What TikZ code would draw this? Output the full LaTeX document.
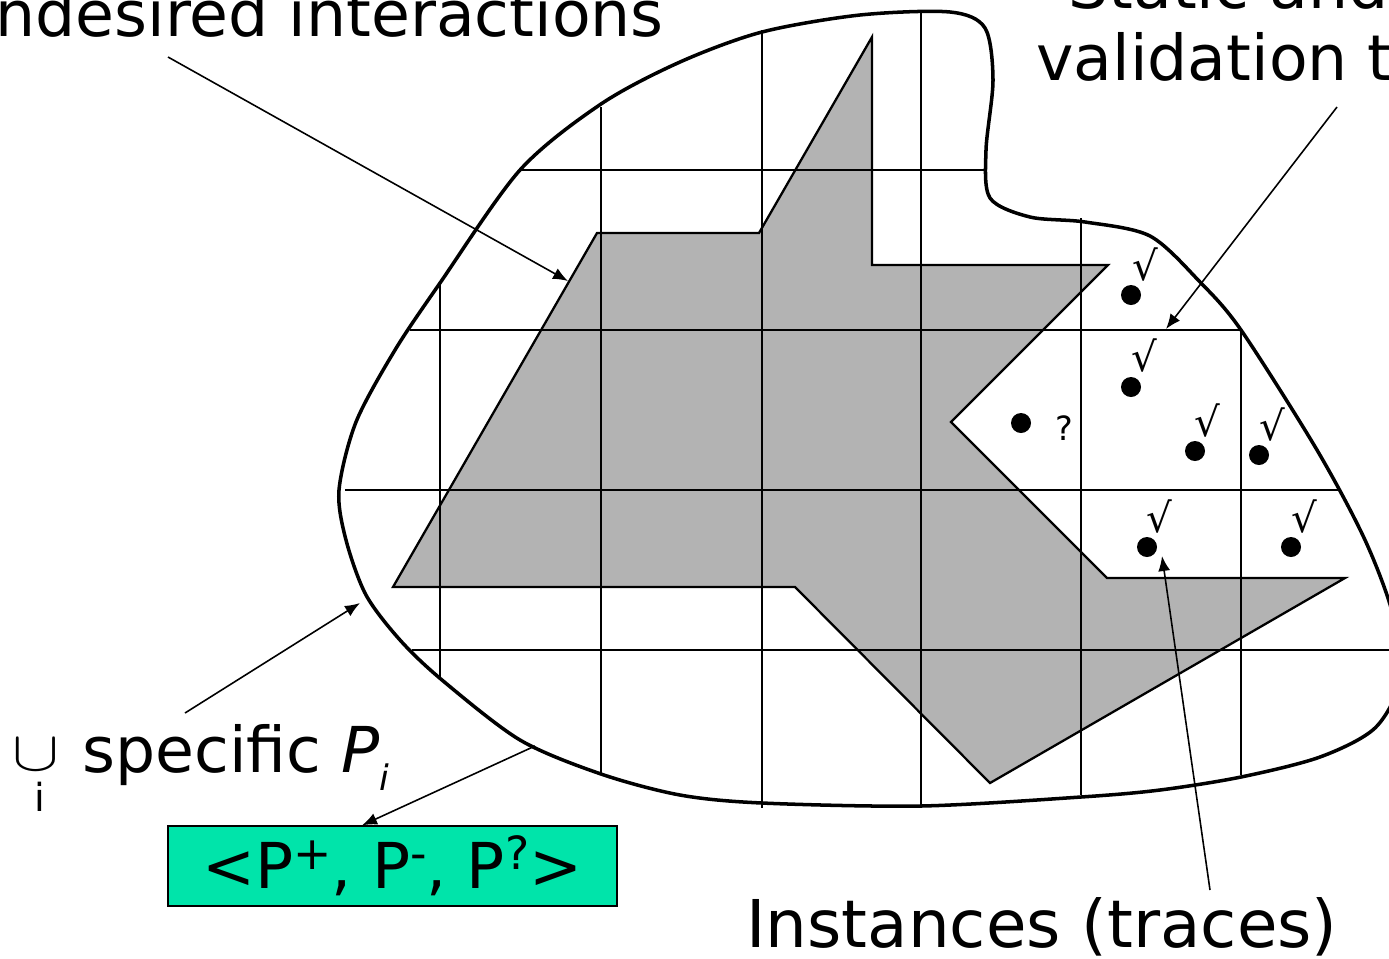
\documentclass[tikz,border=0pt]{standalone}
\usepackage{fontspec}
\setmainfont{DejaVu Sans}
\usetikzlibrary{arrows.meta}
\definecolor{shade}{RGB}{179,179,179}
\definecolor{mint}{RGB}{0,228,170}
\newcommand\supmark[1]{\raisebox{0.3em}{\fontsize{26}{26}\selectfont #1}}
\begin{document}
\begin{tikzpicture}[x=0.02cm,y=-0.02cm,
  outline/.style={line width=2pt},
  gridline/.style={line width=1.3pt},
  region/.style={fill=shade,draw=black,line width=1.3pt,line join=miter},
  pointer/.style={line width=0.9pt,-{Latex[length=0.3cm,width=0.24cm]}},
  dot/.style={circle,fill=black,inner sep=0pt,minimum size=0.4cm},
  okmark/.style={font=\fontsize{23}{23}\selectfont,inner sep=0pt},
  bigtext/.style={font=\fontsize{36}{43}\selectfont,inner sep=0pt},
  ]
\useasboundingbox (0,0) rectangle (1389,958);

% shaded region
\draw[region] (393,587) -- (597,233) -- (759,233) -- (872,37) -- (872,265) -- (1108,265)
  -- (951,422) -- (1107,578) -- (1345,578) -- (990,783) -- (795,587) -- cycle;

% grid
\draw[gridline] (520,170) -- (984,170);
\draw[gridline] (410,330) -- (1240,330);
\draw[gridline] (345,490) -- (1338,490);
\draw[gridline] (412,650) -- (1389,650);
\draw[gridline] (440,283) -- (440,680);
\draw[gridline] (601,107) -- (601,775);
\draw[gridline] (762,30) -- (762,808);
\draw[gridline] (921,12) -- (921,808);
\draw[gridline] (1081,218) -- (1081,795);
\draw[gridline] (1241,330) -- (1241,775);

% blob
\draw[outline] plot[smooth cycle, tension=0.5] coordinates {
 (339,490) (356,422) (395,350) (440,283) (520,170) (601,104) (680,62) (762,32)
 (860,15) (950,12) (985,28) (993,80) (986,150) (990,198) (1030,217) (1085,222)
 (1150,236) (1200,282) (1241,330) (1317,450) (1365,540) (1393,615) (1400,680)
 (1375,728) (1320,757) (1241,777) (1160,790) (1081,797) (921,806) (762,803)
 (680,795) (601,774) (520,740) (442,680) (400,640) (366,595) (346,540)};

% instances
\node[dot] (p1) at (1131,295) {};
\node[dot] (p2) at (1131,387) {};
\node[dot] (p3) at (1021,423) {};
\node[dot] (p4) at (1195,451) {};
\node[dot] (p5) at (1259,455) {};
\node[dot] (p6) at (1147,547) {};
\node[dot] (p7) at (1291,547) {};
\node[okmark] (m1) at (1145,265) {√};
\node[okmark] (m2) at (1144,356) {√};
\node[font=\fontsize{19}{19}\selectfont,inner sep=0pt] (m3) at (1064,428) {?};
\node[okmark] (m4) at (1207,421) {√};
\node[okmark] (m5) at (1272,425) {√};
\node[okmark] (m6) at (1159,517) {√};
\node[okmark] (m7) at (1304,517) {√};

% texts
\node[bigtext, anchor=base west] (undes) at (-5,36) {ndesired interactions};
\node[bigtext, anchor=base west] (static) at (1068,8) {Static and};
\node[bigtext, anchor=base west] (valid) at (1036,80) {validation t};
\node[bigtext, font=\fontsize{37.5}{43}\selectfont, anchor=base west] (inst) at (746,947) {Instances (traces)};
\node[bigtext, anchor=base west] (spec) at (82,772) {specific \textit{P}\raisebox{-0.3em}{\fontsize{20}{20}\selectfont\itshape i}};
\node[inner sep=0pt] (cup) at (36,755) {\scalebox{4}[3.2]{$\cup$}};
\node[font=\fontsize{22}{22}\selectfont, inner sep=0pt] (cupi) at (40,797) {i};

\node[draw=black, line width=0.8pt, fill=mint, minimum width=8.98cm, minimum height=1.6cm,
  inner sep=0pt, font=\fontsize{36}{43}\selectfont] (ppp) at (392.5,866)
  {<P\supmark{+}, P\supmark{-}, P\supmark{?}>};

% arrows
\coordinate (a1s) at (168,57);   \coordinate (a1e) at (568,281);
\coordinate (a2s) at (1337,107); \coordinate (a2e) at (1166,329);
\coordinate (a3s) at (185,713);  \coordinate (a3e) at (360,603);
\coordinate (a4s) at (535,746);  \coordinate (a4e) at ([xshift=-0.61cm]ppp.north);
\coordinate (a5s) at (1210,890); \coordinate (a5e) at (1162,556);
\draw[pointer] (a1s) -- (a1e);
\draw[pointer] (a2s) -- (a2e);
\draw[pointer] (a3s) -- (a3e);
\draw[pointer] (a4s) -- (a4e);
\draw[pointer] (a5s) -- (a5e);
\end{tikzpicture}
\end{document}
